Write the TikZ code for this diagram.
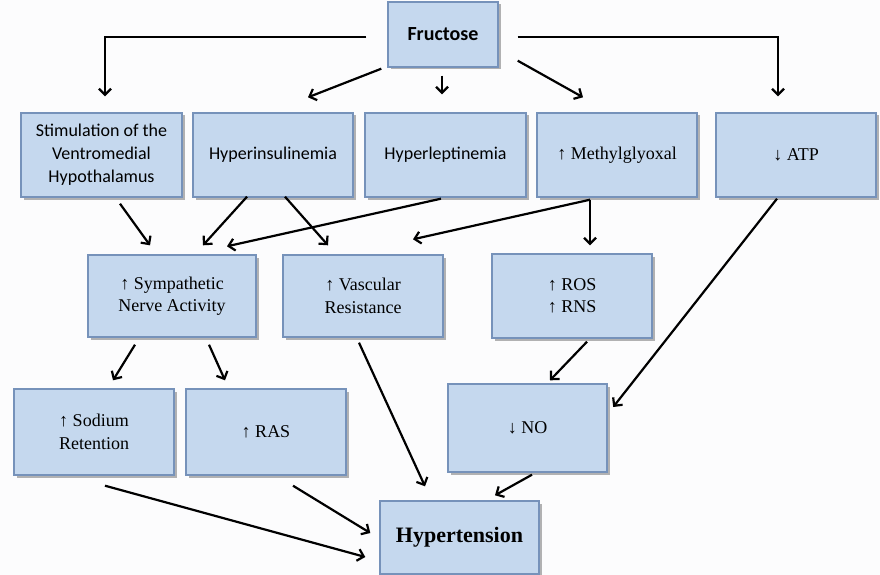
\documentclass[tikz,border=0pt]{standalone}
\usepackage{fontspec}
\setmainfont{Liberation Serif}
\newfontfamily\calibfont{Carlito}
\usetikzlibrary{arrows.meta}
\usetikzlibrary{shadows}
\definecolor{boxfill}{RGB}{197,216,238}
\definecolor{boxline}{RGB}{118,146,186}
\definecolor{pagebg}{RGB}{252,252,253}

\begin{document}
\begin{tikzpicture}
    [x=1pt,y=-1pt,
    box/.style = {draw=boxline,line width=1.4pt,fill=boxfill,minimum width=160pt,minimum height=84pt,inner sep=0pt,align=center,font=\fontsize{18}{22.5}\selectfont,drop shadow={shadow xshift=2.5pt,shadow yshift=-2.5pt,opacity=0.6}},
    sbox/.style = {box,font=\calibfont\fontsize{18}{23}\selectfont},
    arr/.style = {-{Straight Barb[length=6pt,width=12pt]},line width=2.2pt}
    ]
\fill[pagebg] (0,0) rectangle (880,575);
\useasboundingbox (0,0) rectangle (880,575);

% boxes
\node[sbox,minimum width=110pt,minimum height=65pt,font=\calibfont\bfseries\fontsize{20}{24}\selectfont] (fru) at (443,34.5) {Fructose};

\node[sbox,minimum width=161pt] (stim) at (101.5,155) {Stimulation of the\\Ventromedial\\Hypothalamus};
\node[sbox] (hins) at (273,155) {Hyperinsulinemia};
\node[sbox,minimum width=161pt] (hlep) at (445.5,155) {Hyperleptinemia};
\node[box] (mgo) at (617,155) {↑ Methylglyoxal};
\node[box] (atp) at (796,155) {↓ ATP};

\node[box,minimum width=168pt,minimum height=82pt] (symp) at (172,296) {↑ Sympathetic\\Nerve Activity};
\node[box,minimum height=82pt] (vasc) at (363,296) {↑ Vascular\\Resistance};
\node[box,minimum height=84pt] (ros) at (572,296) {↑ ROS\\↑ RNS};

\node[box,minimum height=86pt] (sod) at (94,432) {↑ Sodium\\Retention};
\node[box,minimum height=86pt] (ras) at (266,432) {↑ RAS};
\node[box,minimum width=159pt,minimum height=88pt] (no) at (527.5,428) {↓ NO};

\node[box,minimum width=159pt,minimum height=73pt,font=\bfseries\fontsize{22}{26}\selectfont] (hyp) at (459.5,537.5) {Hypertension};

% from fructose
\draw[arr] ([xshift=-21pt,yshift=-2.5pt]fru.west) -| ([xshift=3.5pt,yshift=16pt]stim.north);
\draw[arr] ([xshift=19pt,yshift=-2.5pt]fru.east) -| ([xshift=-18pt,yshift=16pt]atp.north);
\draw[arr] ([xshift=-6pt,yshift=-1pt]fru.south west) -- ([xshift=35pt,yshift=15pt]hins.north);
\draw[arr] ([xshift=-1pt,yshift=-8pt]fru.south) -- ([xshift=-3.5pt,yshift=18pt]hlep.north);
\draw[arr] ([xshift=19pt,yshift=7pt]fru.south east) -- ([xshift=-34pt,yshift=15pt]mgo.north);

% first row to second row
\draw[arr] ([xshift=18.5pt,yshift=-6pt]stim.south) -- ([xshift=-22pt,yshift=9pt]symp.north);
\draw[arr] ([xshift=-26pt,yshift=1pt]hins.south) -- ([xshift=31pt,yshift=9pt]symp.north);
\draw[arr] ([xshift=12pt,yshift=1pt]hins.south) -- ([xshift=-35pt,yshift=9pt]vasc.north);
\draw[arr] ([xshift=-4.5pt,yshift=-1pt]hlep.south) -- ([xshift=55pt,yshift=8pt]symp.north);
\draw[arr] ([xshift=-27pt,yshift=-2pt]mgo.south) -- ([xshift=50pt,yshift=15pt]vasc.north);
\draw[arr] ([xshift=-27pt,yshift=-2pt]mgo.south) -- ([xshift=18pt,yshift=8pt]ros.north);
\draw[arr] ([xshift=-19pt,yshift=-1pt]atp.south) -- ([xshift=5.5pt,yshift=21pt]no.east);

% second row down
\draw[arr] ([xshift=-37pt,yshift=-7pt]symp.south) -- ([xshift=19pt,yshift=8pt]sod.north);
\draw[arr] ([xshift=37pt,yshift=-7pt]symp.south) -- ([xshift=-41pt,yshift=8pt]ras.north);
\draw[arr] ([xshift=-4pt,yshift=-5pt]vasc.south) -- ([xshift=-34.5pt,yshift=14pt]hyp.north);
\draw[arr] ([xshift=15pt,yshift=-3pt]ros.south) -- ([xshift=22.5pt,yshift=3pt]no.north);

% into hypertension
\draw[arr] ([xshift=4.5pt,yshift=-2pt]no.south) -- ([xshift=35.5pt,yshift=5pt]hyp.north);
\draw[arr] ([xshift=11pt,yshift=-10pt]sod.south) -- ([xshift=-14pt,yshift=-19.5pt]hyp.west);
\draw[arr] ([xshift=27pt,yshift=-10pt]ras.south) -- ([xshift=-9pt,yshift=4.5pt]hyp.west);
\end{tikzpicture}
\end{document}
